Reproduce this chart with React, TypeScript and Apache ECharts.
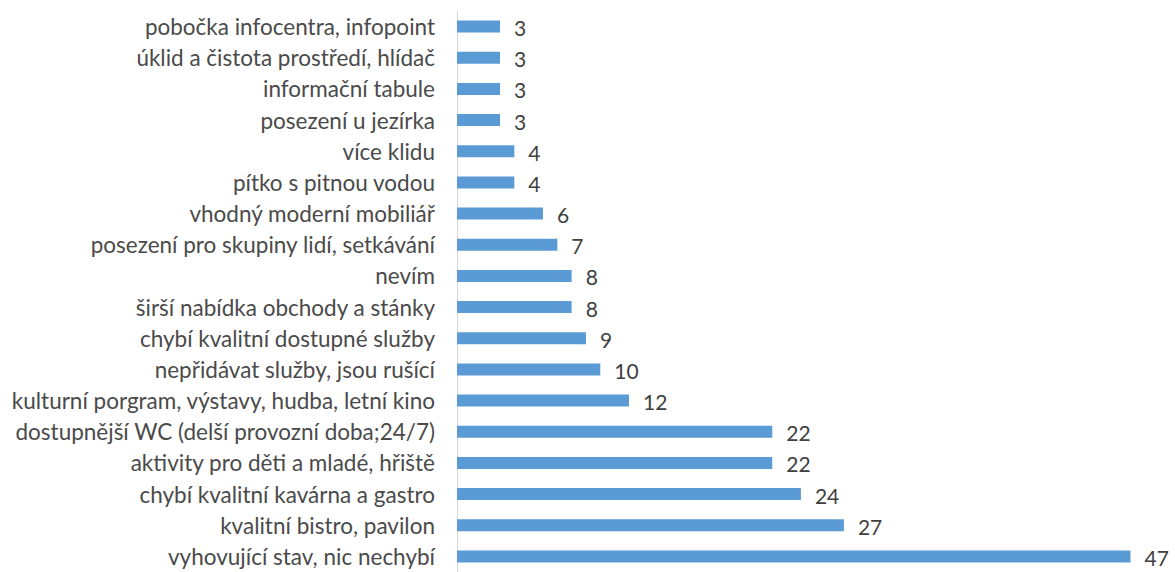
import React, { useEffect, useRef } from "react";
import * as echarts from "echarts";

const categories = [
  "pobočka infocentra, infopoint",
  "úklid a čistota prostředí, hlídač",
  "informační tabule",
  "posezení u jezírka",
  "více klidu",
  "pítko s pitnou vodou",
  "vhodný moderní mobiliář",
  "posezení pro skupiny lidí, setkávání",
  "nevím",
  "širší nabídka obchody a stánky",
  "chybí kvalitní dostupné služby",
  "nepřidávat služby, jsou rušící",
  "kulturní porgram, výstavy, hudba, letní kino",
  "dostupnější WC (delší provozní doba;24/7)",
  "aktivity pro děti a mladé, hřiště",
  "chybí kvalitní kavárna a gastro",
  "kvalitní bistro, pavilon",
  "vyhovující stav, nic nechybí",
];

const values = [3, 3, 3, 3, 4, 4, 6, 7, 8, 8, 9, 10, 12, 22, 22, 24, 27, 47];

export default function App() {
  const ref = useRef<HTMLDivElement>(null);
  useEffect(() => {
    if (!ref.current) return;
    const chart = echarts.init(ref.current, undefined, { renderer: "svg" });
    chart.setOption({
      animation: false,
      grid: { left: 457, right: 1175 - 457 - 50 * 14.33, top: 11, bottom: -4, containLabel: false },
      xAxis: {
        type: "value",
        min: 0,
        max: 50,
        show: false,
      },
      yAxis: {
        type: "category",
        data: categories,
        inverse: true,
        axisLine: { show: true, lineStyle: { color: "#d9d9d9", width: 1 } },
        axisTick: { show: false },
        axisLabel: {
          margin: 22,
          color: "#4a4a4a",
          fontSize: 22.5,
          fontFamily: "Lato",
        },
        splitLine: { show: false },
      },
      series: [
        {
          type: "bar",
          data: values,
          barWidth: 12,
          itemStyle: { color: "#5b9bd5" },
          label: {
            show: true,
            position: "right",
            distance: 14,
            offset: [0, 1],
            color: "#404040",
            fontSize: 21,
            fontFamily: "Lato",
          },
        },
      ],
    });
    return () => chart.dispose();
  }, []);
  return (
    <div
      ref={ref}
      style={{ position: "absolute", left: 0, top: 0, width: 1175, height: 572, background: "#fff" }}
    />
  );
}
